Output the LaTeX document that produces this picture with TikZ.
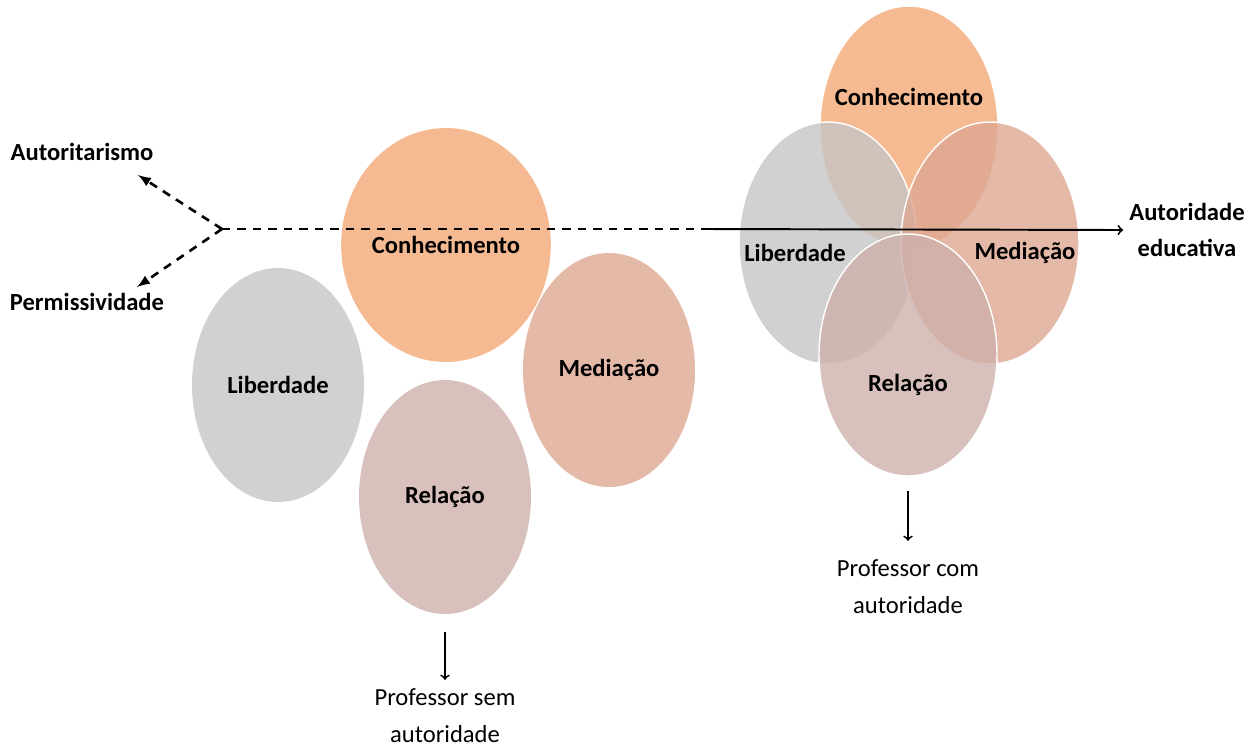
\documentclass[tikz,border=0pt]{standalone}
\usepackage{fontspec}
\setmainfont{Carlito}
\usetikzlibrary{shapes.geometric}

\definecolor{conhec}{RGB}{243,169,119}
\definecolor{liberd}{RGB}{197,197,197}
\definecolor{mediac}{RGB}{222,167,146}
\definecolor{relac}{RGB}{206,176,171}

\tikzset{
  blob/.style={shape=ellipse, inner sep=0pt, fill opacity=0.8, text opacity=1,
    minimum width=3.44cm, minimum height=4.68cm},
  bigblob/.style={blob, draw=white, line width=0.8pt,
    minimum width=3.56cm, minimum height=4.84cm},
  word/.style={font=\fontsize{14}{21}\selectfont\bfseries, align=center},
  note/.style={font=\fontsize{14}{21}\selectfont, align=center},
  dashline/.style={dash pattern=on 4.8pt off 4pt, line width=1.5pt},
  mainline/.style={line width=1.1pt},
  downline/.style={line width=1pt}
}

\begin{document}
\begin{tikzpicture}[x=0.02cm, y=-0.02cm]
		\useasboundingbox (0,0) rectangle (1259,752);

		% professor sem autoridade
		\node[blob, fill=conhec, word] (conL) at (446,245) {Conhecimento};
		\node[blob, fill=liberd, word] (libL) at (278,385) {Liberdade};
		\node[blob, fill=mediac, word] (medL) at (609,370) {Mediação};
		\node[blob, fill=relac, word] (relL) at (445,497) {Relação};
		\node[note] (semT) at (445,716) {Professor sem\\autoridade};

		% professor com autoridade
		\node[bigblob, fill=conhec] (conR) at (909,127) {};
		\node[bigblob, fill=liberd] (libR) at (828,243) {};
		\node[bigblob, fill=mediac] (medR) at (990,243) {};
		\node[bigblob, fill=relac] (relR) at (908,355) {};
		\node[note] (comT) at (908,587) {Professor com\\autoridade};

		\node[word] (aut) at (82,152) {Autoritarismo};
		\node[word] (per) at (87,302) {Permissividade};
		\node[word] (edu) at (1187,230) {Autoridade\\educativa};

		\coordinate (fork) at (222,229);
		\coordinate (solid) at (704,229);
		\coordinate (autTip) at (138,175);
		\coordinate (perTip) at (137,287);

		\path [dashline, -latex, black] (fork) edge (autTip);
		\path [dashline, -latex, black] (fork) edge (perTip);
		\path [dashline, black] (fork) edge (solid);
		\path [mainline, ->, black] (solid) edge (edu.west);

		\node[word] (conRt) at (909,97) {Conhecimento};
		\node[word] (libRt) at (795,253) {Liberdade};
		\node[word] (medRt) at (1025,253) {Mediação};
		\node[word] (relRt) at (908,385) {Relação};

		\path [downline, ->, black, shorten <=0.36cm, shorten >=0.06cm] (relL.south) edge (semT.north);
		\path [downline, ->, black, shorten <=0.28cm, shorten >=0.26cm] (relR.south) edge (comT.north);
\end{tikzpicture}
\end{document}
